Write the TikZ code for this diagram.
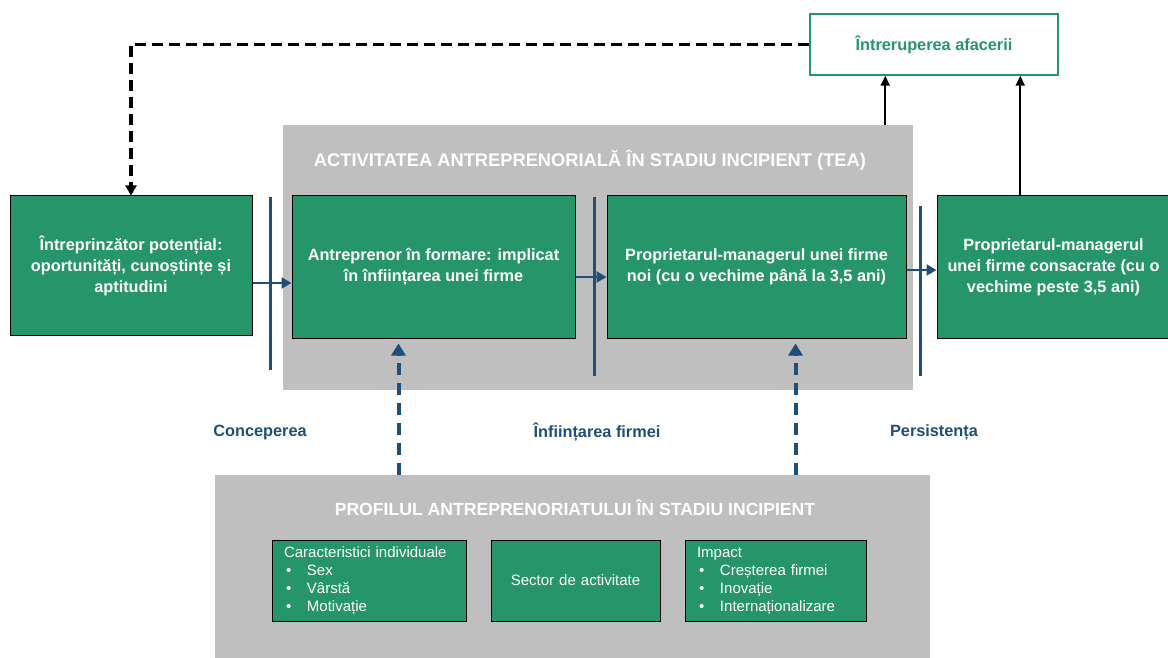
\documentclass[tikz,border=0pt]{standalone}
\usepackage{fontspec}
\setmainfont{Liberation Sans}
\usetikzlibrary{arrows.meta,calc}

\definecolor{gemgreen}{RGB}{38,150,106}
\definecolor{gemgray}{RGB}{191,191,191}
\definecolor{gemblue}{RGB}{31,78,121}

\newcommand{\bul}[1]{\makebox[23pt][l]{\hspace{2pt}\textbullet}#1}

\begin{document}
\begin{tikzpicture}[x=1pt,y=-1pt,
  stagebox/.style={draw=black,line width=1pt,fill=gemgreen,text=white,
    font=\fontsize{16.3}{21}\selectfont\bfseries,align=center,inner sep=0pt},
  smallbox/.style={draw=black,line width=1pt,fill=gemgreen,text=white,
    font=\fontsize{15}{18}\selectfont,align=left,inner xsep=12pt,inner ysep=0pt,
    minimum height=81pt},
  graybox/.style={fill=gemgray,inner sep=0pt},
  graytitle/.style={text=white,font=\fontsize{18.3}{22}\selectfont\bfseries},
  phase/.style={text=gemblue,font=\fontsize{16.3}{20}\selectfont\bfseries},
  divider/.style={gemblue,line width=3pt},
  bluearrow/.style={gemblue,line width=2.5pt,-{Triangle[length=10pt,width=11pt]}},
  bluedash/.style={gemblue,line width=4pt,dash pattern=on 12pt off 8pt,
    -{Triangle[length=12pt,width=14pt]}},
  blackarrow/.style={black,line width=2pt,-{Triangle[length=10pt,width=9pt]}},
  blackdash/.style={black,line width=3.2pt,dash pattern=on 11pt off 6pt,
    -{Triangle[length=10pt,width=11pt]}}]
\useasboundingbox (0,0) rectangle (1168,658);

\node[graybox,minimum width=630pt,minimum height=265pt] (tea) at (598,257.5) {};
\node[graybox,minimum width=715pt,minimum height=190pt] (prof) at (572.5,570) {};
\node[graytitle] (teatitle) at (590,160) {ACTIVITATEA ANTREPRENORIALĂ ÎN STADIU INCIPIENT (TEA)};
\node[graytitle,font=\fontsize{17.6}{22}\selectfont\bfseries] (proftitle) at (575,508)
  {PROFILUL ANTREPRENORIATULUI ÎN STADIU INCIPIENT};

\node[stagebox,minimum width=242pt,minimum height=139pt] (pot) at (131,265.5)
  {Întreprinzător potențial:\\oportunități, cunoștințe și\\aptitudini};
\node[stagebox,minimum width=283pt,minimum height=142pt] (form) at (433.5,267)
  {Antreprenor în formare: implicat\\în înființarea unei firme};
\node[stagebox,minimum width=299pt,minimum height=142pt] (newf) at (756.5,267)
  {Proprietarul-managerul unei firme\\noi (cu o vechime până la 3,5 ani)};
\node[stagebox,minimum width=233pt,minimum height=142pt] (est) at (1053.5,267)
  {Proprietarul-managerul\\unei firme consacrate (cu o\\vechime peste 3,5 ani)};

\node[draw=gemgreen,line width=1.5pt,fill=white,text=gemgreen,
  font=\fontsize{16.3}{20}\selectfont\bfseries,minimum width=248pt,minimum height=61pt]
  (stop) at (934,44.5) {Întreruperea afacerii};

\node[smallbox,text width=170pt] (car) at (369,580.5)
  {Caracteristici individuale\\\bul{Sex}\\\bul{Vârstă}\\\bul{Motivație}};
\node[smallbox,align=center,text width=145pt] (sec) at (575.5,580.5) {Sector de activitate};
\node[smallbox,text width=157pt] (imp) at (775.5,580.5)
  {Impact\\\bul{Creșterea firmei}\\\bul{Inovație}\\\bul{Internaționalizare}};

\node[phase] (concep) at (260,432) {Conceperea};
\node[phase] (infiint) at (597,432) {Înființarea firmei};
\node[phase] (persist) at (934,432) {Persistența};

\draw[divider] (270,197) -- (270,370);
\draw[divider] (594,197) -- (594,376);
\draw[divider] (920,206) -- (920,376);

\draw[bluearrow] ([yshift=-17.5pt]pot.east) -- ([yshift=-16pt]form.west);
\draw[bluearrow] ([yshift=-10pt]form.east) -- ([yshift=-10pt]newf.west);
\draw[bluearrow] ([yshift=-3pt]newf.east) -- ([yshift=-3pt]est.west);

\coordinate (up1) at ($(form.south west)+(107,5)$);
\coordinate (up2) at ($(newf.south west)+(189,5)$);
\draw[bluedash] (up1 |- prof.north) -- (up1);
\draw[bluedash] (up2 |- prof.north) -- (up2);

\coordinate (brk1) at ($(stop.south west)+(76,0)$);
\coordinate (brk2) at ($(stop.south west)+(211,0)$);
\draw[blackarrow] (brk1 |- tea.north) -- (brk1);
\draw[blackarrow] (brk2 |- est.north) -- (brk2);
\draw[blackdash] (stop.west) -| (pot.north);
\end{tikzpicture}
\end{document}
